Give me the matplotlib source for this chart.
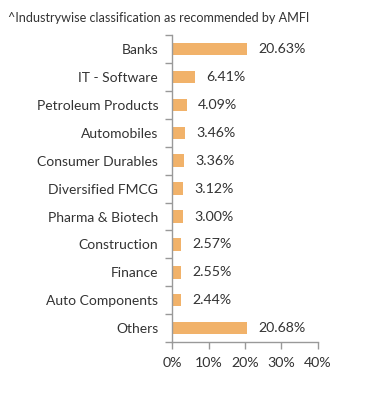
import matplotlib
matplotlib.use("Agg")
import matplotlib.pyplot as plt
import numpy as np

plt.rcParams['font.family'] = ['Lato', 'DejaVu Sans']

# Data
categories = ['Banks', 'IT - Software', 'Petroleum Products', 'Automobiles',
              'Consumer Durables', 'Diversified FMCG', 'Pharma & Biotech',
              'Construction', 'Finance', 'Auto Components', 'Others']
values = [20.63, 6.41, 4.09, 3.46, 3.36, 3.12, 3.00, 2.57, 2.55, 2.44, 20.68]
xticks = [0, 10, 20, 30, 40]

bar_color = '#F1B26A'
text_color = '#333333'
spine_color = '#999999'

fig = plt.figure(figsize=(3.91, 3.95), dpi=100)
ax = fig.add_axes([0.44, 0.134, 0.373, 0.777])

y = np.arange(len(categories))
ax.barh(y, values, height=0.45, color=bar_color)

# value labels to the right of each bar
for yi, v in zip(y, values):
    ax.text(v + 3.1, yi, f'{v:.2f}%', va='center', ha='left',
            fontsize=10.2, color=text_color)

ax.set_xlim(0, 40)
ax.set_ylim(len(categories) - 0.5, -0.5)
ax.set_yticks(y)
ax.set_yticklabels(categories, fontsize=10, color=text_color)
ax.set_yticks(np.arange(-0.5, len(categories), 1), minor=True)
ax.tick_params(axis='y', which='major', length=0, pad=10)
ax.tick_params(axis='y', which='minor', length=5, color=spine_color, width=1)

ax.set_xticks(xticks)
ax.set_xticklabels([f'{t}%' for t in xticks], fontsize=10.2, color=text_color)
ax.tick_params(axis='x', length=5, color=spine_color, width=1, pad=6)

for s in ['top', 'right']:
    ax.spines[s].set_visible(False)
for s in ['left', 'bottom']:
    ax.spines[s].set_color(spine_color)
    ax.spines[s].set_linewidth(1)

fig.text(0.02, 0.955, '^Industrywise classification as recommended by AMFI',
         fontsize=9.1, color=text_color, ha='left', va='center')

fig.savefig('out.png', dpi=100)
